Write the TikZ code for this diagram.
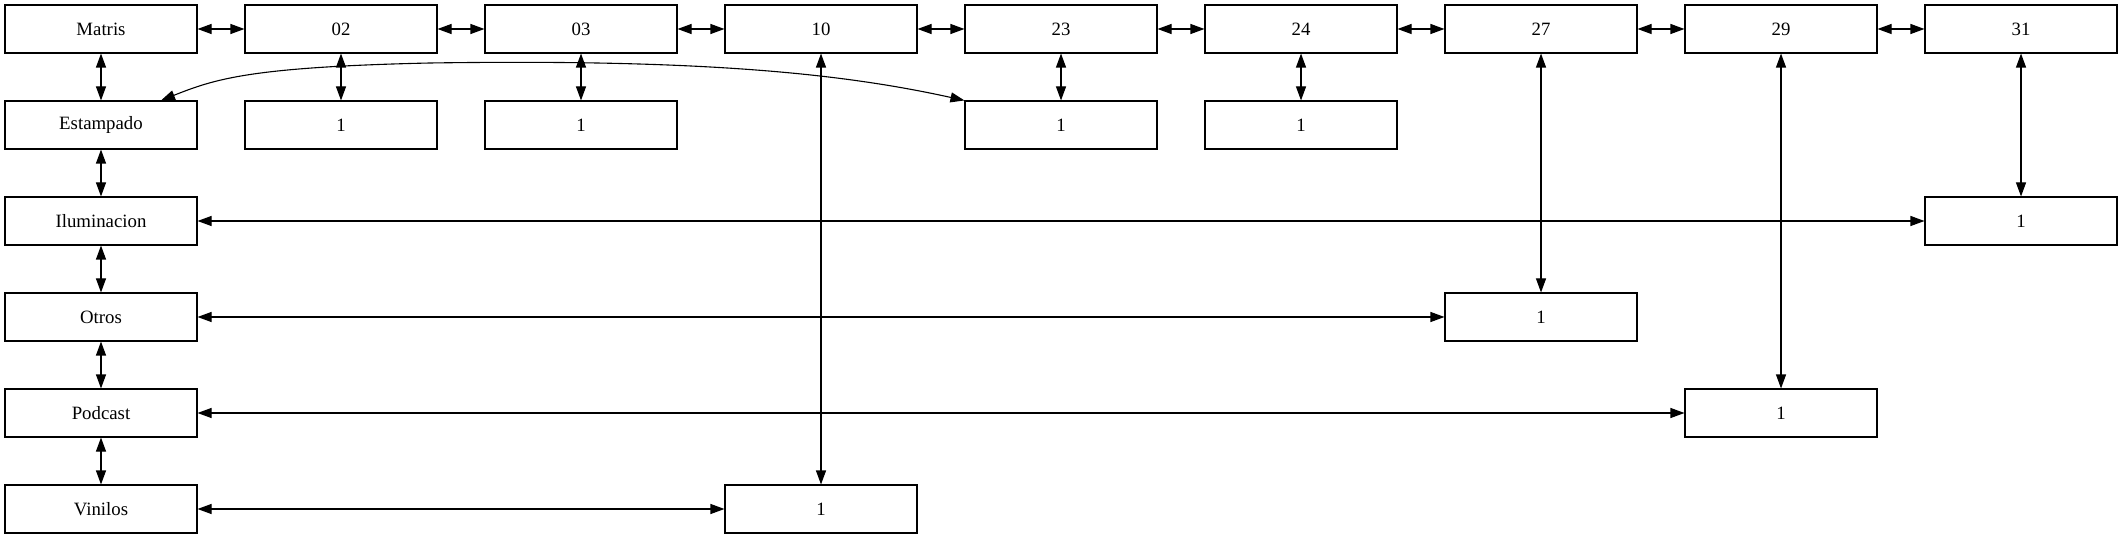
\documentclass[tikz,border=0pt]{standalone}
\usepackage{fontspec}
\setmainfont{Liberation Serif}
\usetikzlibrary{arrows.meta}
\begin{document}
\begin{tikzpicture}[x=0.5pt,y=-0.5pt,
  box/.style={draw, line width=0.55pt, fill=white, minimum width=96pt, minimum height=24pt, inner sep=0pt, font=\fontsize{9.4}{11}\selectfont},
  link/.style={line width=0.55pt, {Triangle[length=7pt,width=5pt]}-{Triangle[length=7pt,width=5pt]}}]
\useasboundingbox (0,0) rectangle (2123,539);
% row 0
\node[box] (m)   at (101,29)  {Matris};
\node[box] (c02) at (341,29)  {02};
\node[box] (c03) at (581,29)  {03};
\node[box] (c10) at (821,29)  {10};
\node[box] (c23) at (1061,29) {23};
\node[box] (c24) at (1301,29) {24};
\node[box] (c27) at (1541,29) {27};
\node[box] (c29) at (1781,29) {29};
\node[box] (c31) at (2021,29) {31};
% row 1
\node[box] (est) at (101,125)  {Estampado};
\node[box] (a02) at (341,125)  {1};
\node[box] (a03) at (581,125)  {1};
\node[box] (a23) at (1061,125) {1};
\node[box] (a24) at (1301,125) {1};
% row 2
\node[box] (ilu) at (101,221)  {Iluminacion};
\node[box] (a31) at (2021,221) {1};
% row 3
\node[box] (otr) at (101,317)  {Otros};
\node[box] (a27) at (1541,317) {1};
% row 4
\node[box] (pod) at (101,413)  {Podcast};
\node[box] (a29) at (1781,413) {1};
% row 5
\node[box] (vin) at (101,509)  {Vinilos};
\node[box] (a10) at (821,509)  {1};
% top chain
\draw[link] (m) -- (c02);
\draw[link] (c02) -- (c03);
\draw[link] (c03) -- (c10);
\draw[link] (c10) -- (c23);
\draw[link] (c23) -- (c24);
\draw[link] (c24) -- (c27);
\draw[link] (c27) -- (c29);
\draw[link] (c29) -- (c31);
% left chain
\draw[link] (m) -- (est);
\draw[link] (est) -- (ilu);
\draw[link] (ilu) -- (otr);
\draw[link] (otr) -- (pod);
\draw[link] (pod) -- (vin);
% verticals
\draw[link] (c02) -- (a02);
\draw[link] (c03) -- (a03);
\draw[link] (c23) -- (a23);
\draw[link] (c24) -- (a24);
\draw[link] (c10) -- (a10);
\draw[link] (c27) -- (a27);
\draw[link] (c29) -- (a29);
\draw[link] (c31) -- (a31);
% horizontals
\draw[link] (ilu) -- (a31);
\draw[link] (otr) -- (a27);
\draw[link] (pod) -- (a29);
\draw[link] (vin) -- (a10);
% curve
\draw[link] ([xshift=30pt]est.north) .. controls (215,79) and (250,67) .. (430,63) .. controls (700,59) and (840,73) .. (a23.north west);
\end{tikzpicture}
\end{document}
